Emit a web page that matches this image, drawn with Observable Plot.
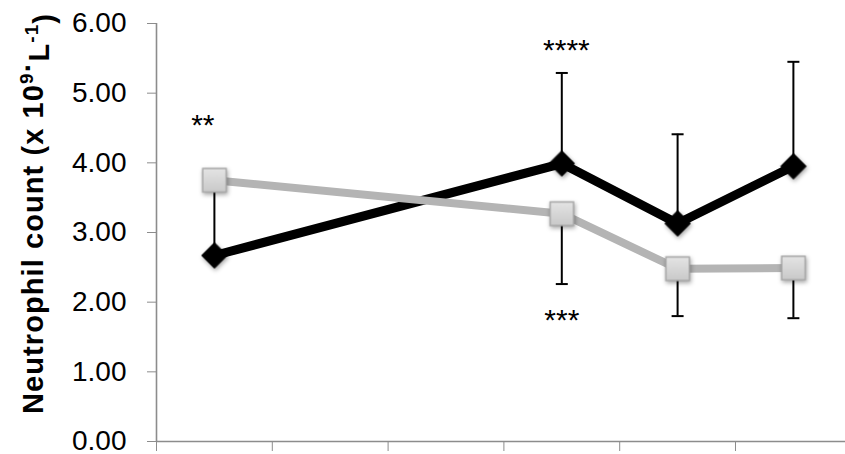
<!DOCTYPE html>
<html><head><meta charset="utf-8">
<script src="https://cdn.jsdelivr.net/npm/d3@7"></script>
<script src="https://cdn.jsdelivr.net/npm/@observablehq/plot@0.6"></script>
<style>html,body{margin:0;padding:0;background:#fff;overflow:hidden}</style>
</head><body><div id="chart"></div>
<script>
// category index of each measured time point (6 slots on the x axis, unlabeled)
const timepoints = [0, 3, 4, 5];
const blackMean  = [2.67, 3.99, 3.13, 3.95];
const blackUpper = [3.70, 5.29, 4.41, 5.45];
const grayMean   = [3.75, 3.27, 2.48, 2.49];
const grayLower  = [null, 2.26, 1.80, 1.77];
const yTicks = [0, 1, 2, 3, 4, 5, 6];
const xTickBounds = [-0.5, 0.5, 1.5, 2.5, 3.5, 4.5];
const sigLabels = ["**", "****", "***"];
const sigX = [-0.1, 3.04, 3.0];
const sigY = [4.40, 5.47, 1.60];

const blackData = timepoints.map((t, i) => ({t, mean: blackMean[i], upper: blackUpper[i]}));
const grayData = timepoints.map((t, i) => ({t, mean: grayMean[i], lower: grayLower[i]}));
const grayErr = grayData.filter(d => d.lower != null);
const sigData = sigLabels.map((s, i) => ({s, x: sigX[i], y: sigY[i]}));

const capSymbol = {draw(ctx, size) { const r = Math.sqrt(size / Math.PI); ctx.moveTo(-r, 0); ctx.lineTo(r, 0); }};
const axisGray = "#8c8c8c";
const shadow = "drop-shadow(1px 2px 2px rgba(0,0,0,0.35))";

const svg = Plot.plot({
  width: 845, height: 454,
  marginLeft: 156, marginRight: 0, marginTop: 23, marginBottom: 13,
  style: {fontFamily: "'Liberation Sans', Arial, sans-serif", fontSize: "28px", background: "#fff", overflow: "visible"},
  x: {domain: [-0.5, 5.45]},
  y: {domain: [0, 6]},
  marks: [
    () => {
      const defs = d3.create("svg:defs");
      const g = defs.append("linearGradient").attr("id", "sqgrad").attr("x1", 0).attr("y1", 0).attr("x2", 0).attr("y2", 1);
      g.append("stop").attr("offset", "0%").attr("stop-color", "#e4e4e4");
      g.append("stop").attr("offset", "100%").attr("stop-color", "#c9c9c9");
      return defs.node();
    },
    Plot.axisY(yTicks, {tickSize: 9, tickPadding: 21, tickFormat: d3.format(".2f"), stroke: axisGray, fill: "black", fontSize: 28, label: null}),
    Plot.axisX(xTickBounds, {tickSize: 10, tickFormat: () => "", stroke: axisGray, label: null}),
    Plot.ruleY([0], {stroke: axisGray, strokeWidth: 1.6}),
    Plot.ruleX([-0.5], {stroke: axisGray, strokeWidth: 1.6}),
    // error bars
    Plot.ruleX(blackData, {x: "t", y1: "mean", y2: "upper", stroke: "black", strokeWidth: 2}),
    Plot.dot(blackData, {x: "t", y: "upper", symbol: capSymbol, r: 6, stroke: "black", strokeWidth: 2}),
    Plot.ruleX(grayErr, {x: "t", y1: "mean", y2: "lower", stroke: "black", strokeWidth: 2}),
    Plot.dot(grayErr, {x: "t", y: "lower", symbol: capSymbol, r: 6, stroke: "black", strokeWidth: 2}),
    // lines
    Plot.line(blackData, {x: "t", y: "mean", stroke: "black", strokeWidth: 9, strokeLinejoin: "miter"}),
    Plot.line(grayData, {x: "t", y: "mean", stroke: "#b4b4b4", strokeWidth: 8, strokeLinejoin: "miter"}),
    // markers
    Plot.dot(blackData, {x: "t", y: "mean", symbol: "diamond2", r: 11.5, fill: "black", stroke: "black", strokeWidth: 1, imageFilter: shadow}),
    Plot.dot(grayData, {x: "t", y: "mean", symbol: "square", r: 13.2, fill: "url(#sqgrad)", stroke: "#a9a9a9", strokeWidth: 1.5, imageFilter: shadow}),
    // significance
    Plot.text(sigData, {x: "x", y: "y", text: "s", lineAnchor: "bottom", fontSize: 30, fill: "black"})
  ]
});

const s = d3.select(svg);
const title = s.append("text")
  .attr("transform", "translate(43,214) rotate(-90)")
  .attr("text-anchor", "middle")
  .attr("textLength", 400)
  .attr("lengthAdjust", "spacing")
  .style("font-family", "'Liberation Sans', Arial, sans-serif")
  .style("font-weight", "bold")
  .style("font-size", "29px")
  .attr("fill", "black");
title.append("tspan").text("Neutrophil count (x 10");
title.append("tspan").attr("dy", "-0.55em").style("font-size", "19px").text("9");
title.append("tspan").attr("dy", "0.2em").text("·");
title.append("tspan").attr("dy", "0.35em").text("L");
title.append("tspan").attr("dy", "-0.55em").style("font-size", "19px").text("-1");
title.append("tspan").attr("dy", "0.55em").text(")");

document.getElementById("chart").appendChild(svg);
</script>
</body></html>
